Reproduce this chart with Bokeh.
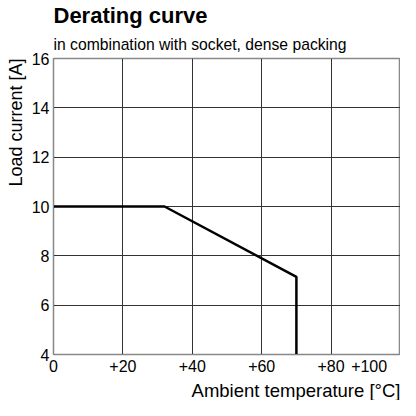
from bokeh.plotting import figure
from bokeh.models import Title, FixedTicker, Range1d
from bokeh.embed import file_html
from bokeh.resources import INLINE

# data
temp = [0, 32, 70, 70]
current = [10, 10, 7.15, 4]
x_ticks = [0, 20, 40, 60, 80, 100]
x_tick_labels = ["0", "+20", "+40", "+60", "+80", "+100"]
y_ticks = [4, 6, 8, 10, 12, 14, 16]

FONT = "Liberation Sans"

p = figure(width=400, height=400, output_backend="svg", toolbar_location=None,
           x_range=Range1d(0, 100), y_range=Range1d(4, 16),
           min_border_left=0, min_border_right=0, min_border_top=0, min_border_bottom=0)

p.title = None
p.add_layout(Title(text="in combination with socket, dense packing", text_font=FONT,
                   text_font_size="15.7px", text_font_style="normal", text_color="black",
                   align="left", offset=0, standoff=12), "above")
p.add_layout(Title(text="Derating curve", text_font=FONT, text_font_size="22px",
                   text_font_style="bold", text_color="black", align="left", offset=0,
                   standoff=0), "above")
p.add_layout(Title(text="Ambient temperature [°C]", text_font=FONT, text_font_size="18.5px",
                   text_font_style="normal", text_color="black", align="right", offset=0,
                   standoff=0), "below")
p.add_layout(Title(text="Load current [A]", text_font=FONT, text_font_size="18px",
                   text_font_style="normal", text_color="black", align="right", offset=0,
                   standoff=6), "left")

p.line(temp, current, line_color="black", line_width=2.5)

for ax in (p.xaxis[0], p.yaxis[0]):
    ax.major_tick_out = 0
    ax.major_tick_in = 0
    ax.minor_tick_out = 0
    ax.minor_tick_in = 0
    ax.axis_line_color = "#888888"
    ax.major_label_text_font = FONT
    ax.major_label_text_font_size = "16px"
    ax.major_label_text_color = "black"

p.xaxis.ticker = FixedTicker(ticks=x_ticks)
overrides = {t: l for t, l in zip(x_ticks, x_tick_labels)}
# pad the last label so that it stays left of the page edge
overrides[x_ticks[-1]] = x_tick_labels[-1] + "\u00a0" * 3
p.xaxis.major_label_overrides = overrides
p.xaxis.major_label_standoff = 3
p.yaxis.ticker = FixedTicker(ticks=y_ticks)
p.yaxis.major_label_standoff = 4

p.xgrid.grid_line_color = "#333333"
p.ygrid.grid_line_color = "#333333"
p.xgrid.grid_line_width = 1
p.ygrid.grid_line_width = 1
p.outline_line_color = "#888888"
p.outline_line_width = 1.5

open("out.html", "w").write(file_html(p, INLINE))
